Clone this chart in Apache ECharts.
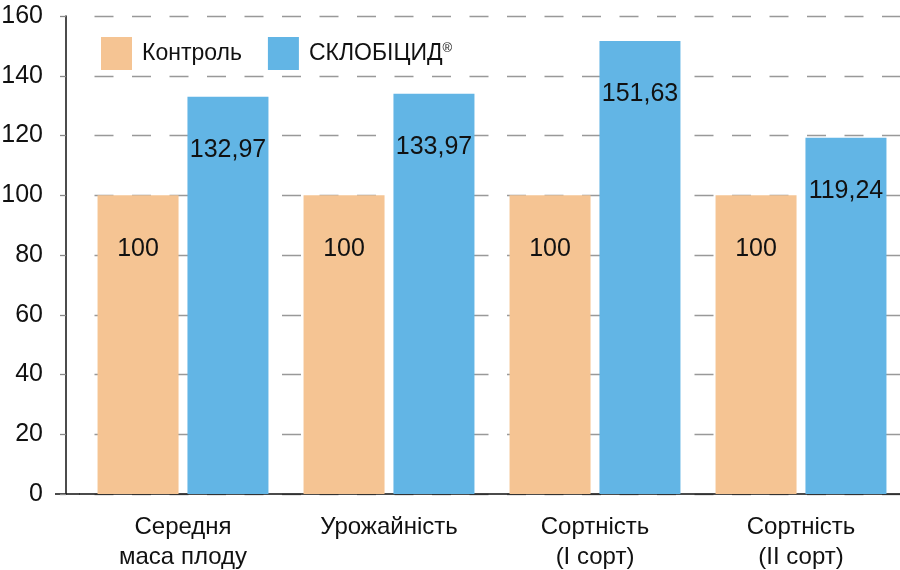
<!DOCTYPE html>
<html>
<head>
<meta charset="utf-8">
<script src="https://cdn.jsdelivr.net/npm/echarts@6/dist/echarts.min.js"></script>
<style>
  html, body { margin: 0; padding: 0; background: #fff; }
  #main { width: 900px; height: 570px; }
</style>
</head>
<body>
<div id="main"></div>
<script>
const categories = ['Середня\nмаса плоду', 'Урожайність', 'Сортність\n(I сорт)', 'Сортність\n(II сорт)']
const seriesNames = ['Контроль', 'СКЛОБІЦИД']
const controlValues = [100, 100, 100, 100]
const sklobicidValues = [132.97, 133.97, 151.63, 119.24]
const yTicks = [0, 20, 40, 60, 80, 100, 120, 140, 160]

const font = '"Liberation Sans", Arial, Helvetica, sans-serif'
const fmt = v => (Number.isInteger(v) ? String(v) : v.toFixed(2).replace('.', ','))

const myChart = echarts.init(document.getElementById('main'))

const barLabel = {
  show: true,
  position: 'insideTop',
  distance: 41,
  color: '#111',
  fontFamily: font,
  fontSize: 25,
  formatter: p => fmt(p.value)
}

myChart.setOption({
  animation: false,
  backgroundColor: '#fff',
  grid: { left: 80, top: 16, width: 824, height: 478, outerBoundsMode: 'none', containLabel: false },
  legend: {
    left: 96,
    top: 32,
    itemWidth: 31,
    itemHeight: 33,
    itemGap: 26,
    icon: 'rect',
    data: seriesNames,
    formatter: name => (name === 'СКЛОБІЦИД' ? '{a|' + name + '}{s|®}' : '{a|' + name + '}'),
    textStyle: {
      fontFamily: font,
      color: '#111',
      padding: [0, 0, 0, 5],
      rich: {
        a: { fontSize: 23, fontFamily: font, color: '#111' },
        s: { fontSize: 13, fontFamily: font, color: '#111', verticalAlign: 'top', padding: [0, 0, 10, 0] }
      }
    }
  },
  xAxis: {
    type: 'category',
    data: categories,
    axisLine: { show: true, lineStyle: { color: '#111', width: 1.5 } },
    axisTick: { show: false },
    axisLabel: {
      margin: 18,
      color: '#111',
      fontFamily: font,
      fontSize: 24,
      lineHeight: 30
    }
  },
  yAxis: {
    type: 'value',
    min: yTicks[0],
    max: yTicks[yTicks.length - 1],
    interval: 20,
    offset: 14,
    axisLine: { show: true, lineStyle: { color: '#111', width: 1.5 } },
    axisTick: { show: true, length: 6, lineStyle: { color: '#888', width: 1.3 } },
    axisLabel: {
      margin: 23,
      color: '#111',
      fontFamily: font,
      fontSize: 25
    },
    splitLine: {
      show: true,
      lineStyle: { color: '#999', width: 1.3, type: [19, 18.5], dashOffset: 23 }
    }
  },
  graphic: [{
    type: 'line',
    shape: { x1: 55, y1: 494, x2: 80, y2: 494 },
    style: { stroke: '#111', lineWidth: 1.5 }
  }],
  series: [
    {
      name: seriesNames[0],
      type: 'bar',
      data: controlValues,
      barWidth: 81,
      barGap: '11%',
      itemStyle: { color: '#F5C493' },
      label: barLabel
    },
    {
      name: seriesNames[1],
      type: 'bar',
      data: sklobicidValues,
      barWidth: 81,
      barGap: '11%',
      itemStyle: { color: '#62B5E5' },
      label: barLabel
    }
  ]
})
</script>
</body>
</html>
